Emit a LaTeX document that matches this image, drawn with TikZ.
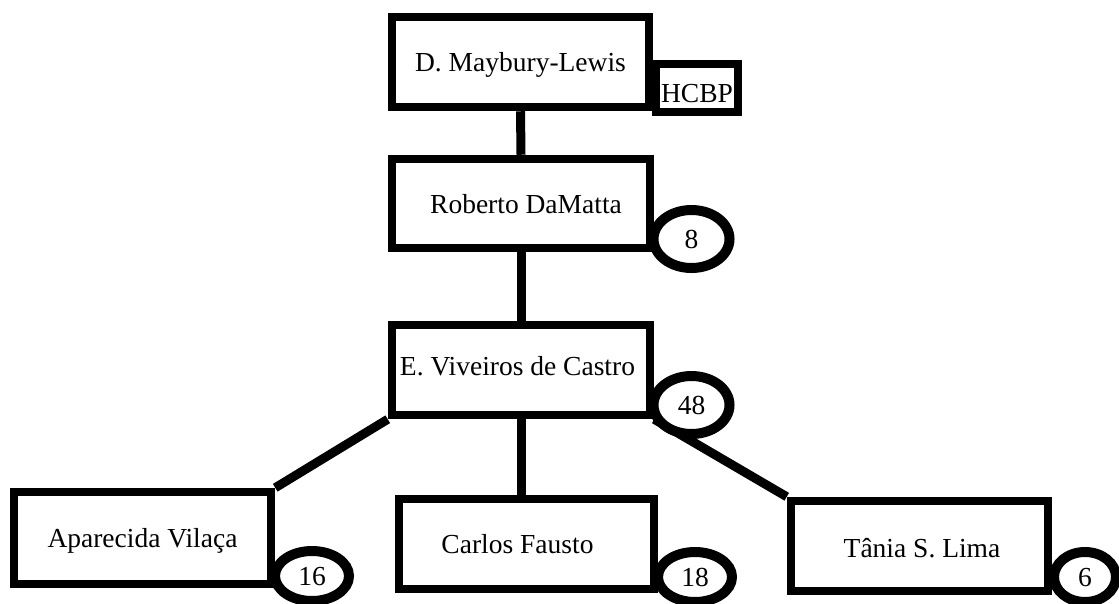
\documentclass[tikz,border=0pt]{standalone}
\usepackage{fontspec}
\setmainfont{Liberation Serif}
\usetikzlibrary{shapes.geometric,backgrounds}
\begin{document}
\begin{tikzpicture}[x=1pt,y=-1pt,
  every node/.style={font=\fontsize{27.5}{30}\selectfont, inner sep=0pt, text height=19pt, text depth=0pt},
  box/.style={draw, rectangle, line width=8.5pt, fill=white},
  count/.style={draw, ellipse, line width=10pt, fill=white},
  link/.style={line width=9pt}]
\useasboundingbox (0,0) rectangle (1119,603);
\clip (0,0) rectangle (1119,603);
% boxes
\node[box, minimum width=257pt, minimum height=90pt] (may) at (520.5,62) {D. Maybury-Lewis};
\node[box, minimum width=258pt, minimum height=89pt, label={[xshift=5pt]center:Roberto DaMatta}] (rob) at (521,203.5) {};
\node[box, minimum width=258pt, minimum height=90pt, label={[xshift=-3.5pt,yshift=4.5pt]center:E. Viveiros de Castro}] (viv) at (521,370) {};
\node[box, minimum width=257pt, minimum height=92pt] (apa) at (142.5,538) {Aparecida Vilaça};
\node[box, minimum width=255pt, minimum height=90pt, label={[xshift=-9pt]center:Carlos Fausto}] (car) at (526.5,544) {};
\node[box, minimum width=257pt, minimum height=90pt, label={[xshift=2.5pt,yshift=-1.5pt]center:Tânia S. Lima}] (tan) at (919.5,546) {};
% side box
\node[box, minimum width=82pt, minimum height=48pt, label={[yshift=-5pt]center:HCBP}] (hcbp) at (697,88) {};
% counts
\node[count, minimum width=76pt, minimum height=58pt] (c8) at (691.5,239) {8};
\node[count, minimum width=76pt, minimum height=58pt] (c48) at (691.5,405) {48};
\node[count, minimum width=74pt, minimum height=50pt] (c16) at (312,576) {16};
\node[count, minimum width=74pt, minimum height=50pt] (c18) at (695,577) {18};
\node[count, minimum width=62pt, minimum height=50pt] (c6) at (1085,577) {6};
% connectors (behind boxes)
\begin{pgfonlayer}{background}
\fill[white] (0,0) rectangle (1119,603);
\draw[link] (may.south) -- (rob.north);
\draw[link] (rob.south) -- (viv.north);
\draw[link] (viv.south) -- (viv.south |- car.north);
\draw[link] (viv.south west) -- (apa.north east);
\draw[link] (viv.south east) -- (tan.north west);
\end{pgfonlayer}
\end{tikzpicture}
\end{document}
